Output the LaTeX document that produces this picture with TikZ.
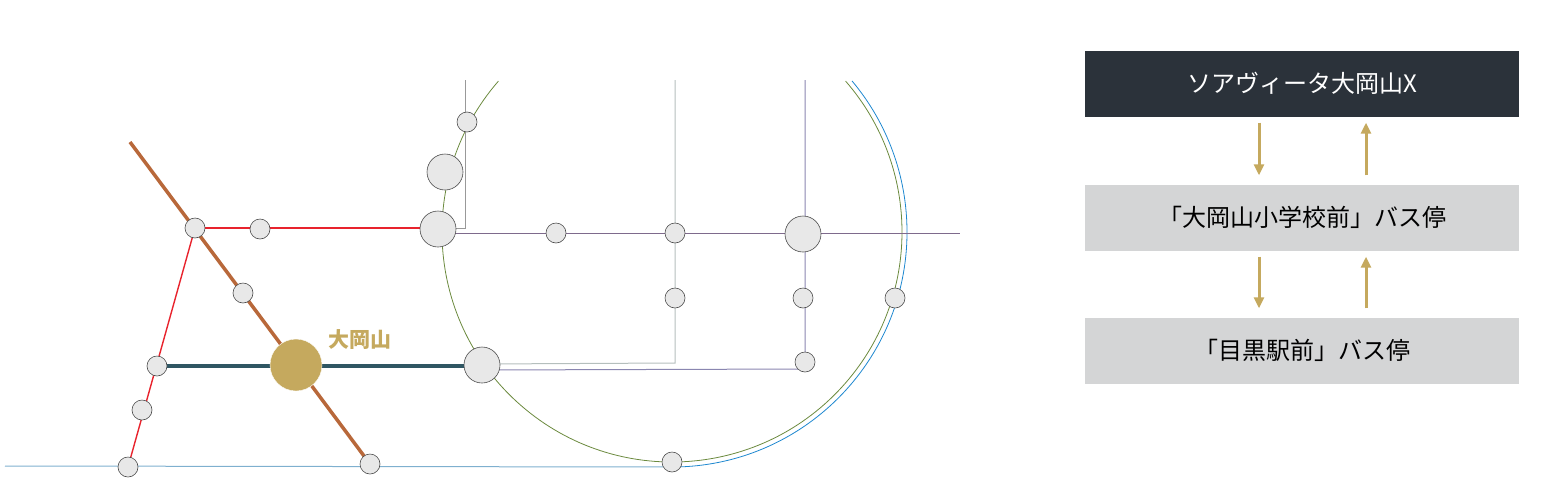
\documentclass[tikz,border=0pt]{standalone}
\usepackage{fontspec}
\setmainfont{Noto Sans CJK JP}
\usetikzlibrary{arrows.meta,calc}
\definecolor{gold}{HTML}{C5A95E}
\definecolor{brn}{HTML}{B8683A}
\definecolor{teal}{HTML}{2F5663}
\definecolor{rd}{HTML}{E8232D}
\definecolor{grn}{HTML}{6B8A3E}
\definecolor{blu}{HTML}{1E88D0}
\definecolor{lblu}{HTML}{7FB0CF}
\definecolor{prp}{HTML}{7E6A8C}
\definecolor{vio}{HTML}{8A86B0}
\definecolor{lgr}{HTML}{B5BFBD}
\definecolor{dark}{HTML}{2B323A}
\definecolor{box}{HTML}{D4D5D6}
\tikzset{
 st/.style={circle,draw=black!70,line width=0.6pt,fill=black!9,minimum size=20pt,inner sep=0},
 big/.style={st,minimum size=36pt},
 bx/.style={minimum width=434pt,minimum height=66pt,inner sep=0,font=\fontsize{24}{26}\selectfont},
 ar/.style={gold,line width=3pt,-{Triangle[length=11pt,width=10pt]}}
}
\begin{document}
\begin{tikzpicture}[x=1pt,y=-1pt]
\useasboundingbox (0,0) rectangle (1546,493);
\coordinate (c) at (672,232);
\coordinate (brtop) at (130,142);
\coordinate (btl) at (5,466);
\coordinate (gtop) at (465,80);
\coordinate (ltop) at (675,80);
\coordinate (vtop) at (805,80);
\coordinate (pend) at (960,233);
\draw[grn,line width=0.8pt] ($(c)+(221:230)$) arc[start angle=221,end angle=-41,radius=230];
\draw[blu,line width=0.8pt] (672,467) arc[start angle=90,end angle=-40,radius=235];
\draw[lblu,line width=1pt] (btl) -- (672,467);
\draw[black!40,line width=0.8pt] (gtop) -- (465,228) -- (438,228);
\draw[prp,line width=0.9pt] (438,233) -- (pend);
\draw[lgr,line width=1pt] (ltop) -- (675,363) -- (482,364);
\draw[vio,line width=1pt] (vtop) -- (805,369) -- (482,370);
\draw[teal,line width=3.5pt] (157,366) -- (482,366);
\draw[rd,line width=1.4pt] (195,228) -- (438,228);
\draw[rd,line width=1.4pt] (195,228) -- (128,467);
\draw[brn,line width=3.5pt] (brtop) -- (370,464);
\node[st] (s1) at (195,228) {};
\node[st] (s2) at (260,229) {};
\node[st] (s3) at (243,293) {};
\node[st] (s4) at (157,366) {};
\node[st] (s5) at (142,410) {};
\node[st] (s6) at (128,467) {};
\node[st] (s7) at (370,464) {};
\node[st] (s8) at (467,122) {};
\node[big] (s9) at (445,172) {};
\node[big] (s10) at (438,229) {};
\node[st] (s11) at (556,233) {};
\node[st] (s12) at (675,233) {};
\node[big] (s13) at (803,234) {};
\node[st] (s14) at (675,298) {};
\node[st] (s15) at (803,298) {};
\node[st] (s16) at (895,298) {};
\node[st] (s17) at (805,362) {};
\node[big] (s18) at (482,365) {};
\node[st] (s19) at (672,462) {};
\node[circle,fill=gold,draw=white,minimum size=52pt,inner sep=0] (oo) at (296,365) {};
\node[gold,font=\fontsize{21}{23}\selectfont\bfseries,anchor=west] (lab) at (325,340) {大岡山};
\node[bx,fill=dark,text=white] (b1) at (1302,83.5) {ソアヴィータ大岡山X};
\node[bx,fill=box,text=black] (b2) at (1302,217.5) {「大岡山小学校前」バス停};
\node[bx,fill=box,text=black] (b3) at (1302,350.5) {「目黒駅前」バス停};
\draw[ar] ([xshift=-43pt,yshift=-6pt]b1.south) -- ([xshift=-43pt,yshift=9pt]b2.north);
\draw[ar] ([xshift=64pt,yshift=9pt]b2.north) -- ([xshift=64pt,yshift=-6pt]b1.south);
\draw[ar] ([xshift=-43pt,yshift=-6pt]b2.south) -- ([xshift=-43pt,yshift=9pt]b3.north);
\draw[ar] ([xshift=64pt,yshift=9pt]b3.north) -- ([xshift=64pt,yshift=-6pt]b2.south);
\end{tikzpicture}
\end{document}
